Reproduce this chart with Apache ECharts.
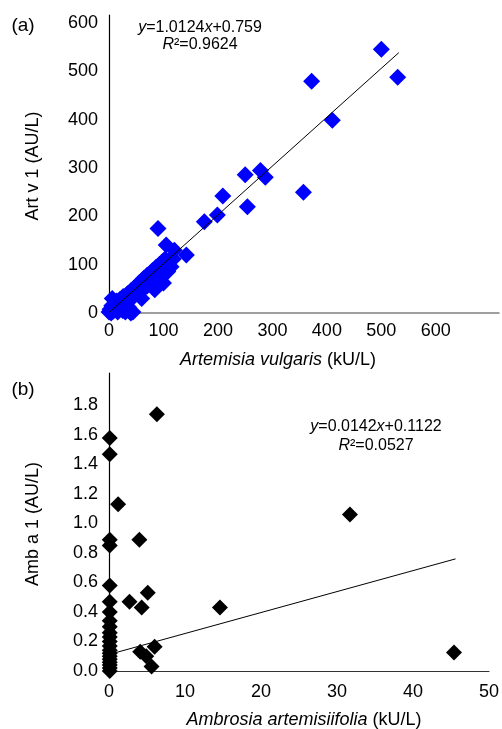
<!DOCTYPE html>
<html>
<head>
<meta charset="utf-8">
<script src="https://cdn.jsdelivr.net/npm/echarts@6/dist/echarts.min.js"></script>
<style>
html,body{margin:0;padding:0;background:#fff;}
#chart{width:502px;height:729px;}
</style>
</head>
<body>
<div id="chart"></div>
<script>
// Panel (a): Artemisia vulgaris (kU/L) vs Art v 1 (AU/L)
const artX = [500,530,372,410,250,278,287,357,254,209,199,175,90,105,120,142,84,
  0,2,4,5,6,8,10,12,14,16,18,20,22,25,26,28,30,32,34,36,38,40,42,44,46,48,50,52,55,57,60,62,64,67,70,72,75,78,80,83,86,89,92,95,98,100,103,106,110,114,118,100,60,95,35,40,70,88,108];
const artY = [546,488,480,399,286,295,281,250,220,242,203,189,175,141,130,120,48,
  2,8,0,15,30,4,18,8,25,2,12,28,20,5,34,22,2,30,40,12,36,46,30,2,50,40,56,44,62,52,66,48,72,60,78,66,82,70,88,76,94,84,100,90,106,96,112,100,108,96,112,62,30,72,6,0,56,64,86];
const artTrendX = [0, 532];
const artTrendY = [0.76, 539];

// Panel (b): Ambrosia artemisiifolia (kU/L) vs Amb a 1 (AU/L)
const ambX = [0.1,0.1,0.1,0.1,0.1,0.1,0.1,0.1,0.1,0.1,0.1,0.1,0.1,0.1,0.1,0.1,0.1,0.1,0.1,0.1,0.1,
  6.3,1.2,31.7,4.0,2.7,5.1,4.3,14.6,4.1,6.0,4.9,5.6,45.4];
const ambY = [1.58,1.47,0.89,0.85,0.58,0.47,0.40,0.34,0.30,0.26,0.23,0.20,0.17,0.14,0.12,0.10,0.08,0.06,0.04,0.02,0.0,
  1.74,1.13,1.06,0.89,0.47,0.53,0.43,0.43,0.13,0.165,0.10,0.03,0.125];
const ambTrendX = [0, 45.6];
const ambTrendY = [0.112, 0.76];

const panelLabels = ['(a)', '(b)'];
const eqA = ['{i|y}=1.0124{i|x}+0.759', '{i|R}²=0.9624'];
const eqB = ['{i|y}=0.0142{i|x}+0.1122', '{i|R}²=0.0527'];
const xNames = ['{i|Artemisia vulgaris} (kU/L)', '{i|Ambrosia artemisiifolia} (kU/L)'];
const yNames = ['Art v 1 (AU/L)', 'Amb a 1 (AU/L)'];

const FONT = 'Liberation Sans, Arial, sans-serif';
const zip = (a, b) => a.map((v, i) => [v, b[i]]);

const chart = echarts.init(document.getElementById('chart'), null, {renderer: 'canvas'});

function txt(x, y, text, size, extra) {
  return Object.assign({
    type: 'text', x: x, y: y,
    style: Object.assign({
      text: text, fontFamily: FONT, fontSize: size, fill: '#000',
      align: 'center', verticalAlign: 'middle',
      rich: { i: { fontStyle: 'italic', fontFamily: FONT, fontSize: size } }
    }, extra || {})
  });
}

const option = {
  backgroundColor: '#fff',
  animation: false,
  grid: [
    { left: 109, top: 15, width: 393, height: 298 },
    { left: 109, top: 373, width: 381, height: 298 }
  ],
  xAxis: [
    { gridIndex: 0, type: 'value', min: 0, max: 716, interval: 100,
      axisLine: { show: true, lineStyle: { color: '#808080', width: 1.5 } },
      axisTick: { show: false }, splitLine: { show: false },
      axisLabel: { fontFamily: FONT, fontSize: 18, color: '#000', margin: 9,
        formatter: v => (v > 600 ? '' : String(v)) } },
    { gridIndex: 1, type: 'value', min: 0, max: 50, interval: 10,
      axisLine: { show: true, lineStyle: { color: '#333', width: 1.2 } },
      axisTick: { show: false }, splitLine: { show: false },
      axisLabel: { fontFamily: FONT, fontSize: 18, color: '#000', margin: 12 } }
  ],
  yAxis: [
    { gridIndex: 0, type: 'value', min: 0, max: 617, interval: 100,
      axisLine: { show: true, lineStyle: { color: '#000', width: 1.2 } },
      axisTick: { show: false }, splitLine: { show: false },
      axisLabel: { fontFamily: FONT, fontSize: 18, color: '#000', margin: 11,
        formatter: v => (v > 600 ? '' : String(v)) } },
    { gridIndex: 1, type: 'value', min: 0, max: 2.02, interval: 0.2,
      axisLine: { show: true, lineStyle: { color: '#000', width: 1.2 } },
      axisTick: { show: false }, splitLine: { show: false },
      axisLabel: { fontFamily: FONT, fontSize: 18, color: '#000', margin: 11,
        formatter: v => (v > 1.9 ? '' : v.toFixed(1)) } }
  ],
  series: [
    { type: 'scatter', xAxisIndex: 0, yAxisIndex: 0, symbol: 'diamond', symbolSize: 17,
      itemStyle: { color: '#0000ff', opacity: 1 }, data: zip(artX, artY), z: 2 },
    { type: 'line', xAxisIndex: 0, yAxisIndex: 0, showSymbol: false, symbol: 'none',
      lineStyle: { color: '#000', width: 1 }, data: zip(artTrendX, artTrendY), z: 3 },
    { type: 'scatter', xAxisIndex: 1, yAxisIndex: 1, symbol: 'diamond', symbolSize: 16,
      itemStyle: { color: '#000', opacity: 1 }, data: zip(ambX, ambY), z: 2 },
    { type: 'line', xAxisIndex: 1, yAxisIndex: 1, showSymbol: false, symbol: 'none',
      lineStyle: { color: '#000', width: 1 }, data: zip(ambTrendX, ambTrendY), z: 3 }
  ],
  graphic: [
    txt(23, 26, panelLabels[0], 19),
    txt(23, 390, panelLabels[1], 19),
    txt(200, 28, eqA[0], 16),
    txt(200, 45, eqA[1], 16),
    txt(376, 427, eqB[0], 16),
    txt(376, 446, eqB[1], 16),
    txt(278, 360, xNames[0], 18),
    txt(304, 720, xNames[1], 18),
    Object.assign(txt(33, 166, yNames[0], 18), { rotation: Math.PI / 2 }),
    Object.assign(txt(33, 524, yNames[1], 18), { rotation: Math.PI / 2 })
  ]
};
chart.setOption(option);
</script>
</body>
</html>
